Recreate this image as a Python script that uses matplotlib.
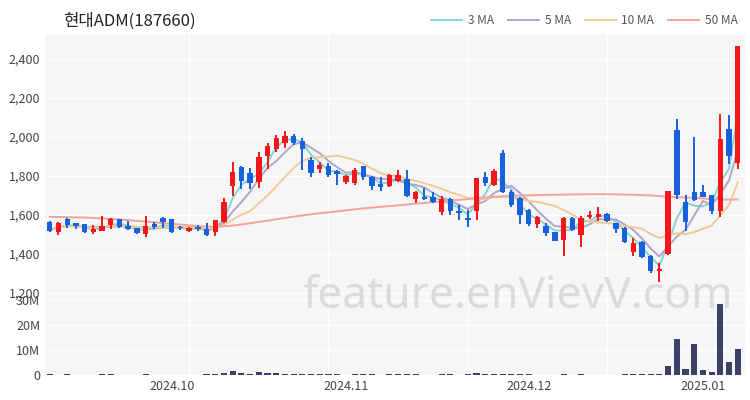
import numpy as np
import pandas as pd
import matplotlib
matplotlib.use('Agg')
import matplotlib.pyplot as plt

plt.rcParams['font.family'] = ['Noto Sans CJK KR', 'DejaVu Sans']

# donnees (80 seances, 2024-09 -> 2025-01-08)
opens = [1566, 1514, 1578, 1557, 1552, 1511, 1520, 1549, 1578, 1544,
         1532, 1502, 1553, 1586, 1578, 1539, 1520, 1539, 1527, 1511,
         1566, 1749, 1848, 1814, 1768, 1901, 1940, 1970, 2004, 1978,
         1882, 1835, 1853, 1826, 1770, 1766, 1851, 1796, 1760, 1749,
         1774, 1785, 1681, 1691, 1691, 1617, 1682, 1620, 1583, 1622,
         1796, 1754, 1920, 1720, 1686, 1626, 1554, 1544, 1511, 1470,
         1586, 1497, 1588, 1588, 1605, 1557, 1533, 1408, 1460, 1391,
         1311, 1399, 2035, 1668, 1716, 1716, 1703, 1619, 2043, 1866]
highs = [1570, 1563, 1586, 1560, 1555, 1548, 1595, 1586, 1580, 1570,
         1534, 1596, 1565, 1588, 1580, 1544, 1539, 1550, 1560, 1576,
         1689, 1873, 1850, 1840, 1922, 1969, 2010, 2029, 2017, 1995,
         1900, 1870, 1866, 1830, 1805, 1840, 1853, 1800, 1795, 1808,
         1831, 1831, 1725, 1737, 1720, 1697, 1685, 1651, 1626, 1790,
         1820, 1835, 1933, 1730, 1690, 1630, 1595, 1560, 1515, 1590,
         1590, 1595, 1622, 1640, 1610, 1560, 1540, 1480, 1465, 1395,
         1354, 1725, 2094, 1705, 2002, 1752, 1705, 2120, 2111, 2464]
lows = [1515, 1497, 1533, 1530, 1510, 1502, 1518, 1530, 1532, 1525,
        1504, 1486, 1530, 1535, 1509, 1522, 1514, 1520, 1494, 1492,
        1560, 1697, 1732, 1736, 1737, 1836, 1921, 1944, 1957, 1831,
        1797, 1817, 1796, 1754, 1760, 1755, 1780, 1726, 1725, 1745,
        1770, 1690, 1661, 1678, 1660, 1600, 1600, 1574, 1540, 1574,
        1750, 1750, 1715, 1640, 1554, 1545, 1535, 1492, 1465, 1390,
        1520, 1434, 1580, 1570, 1562, 1508, 1455, 1390, 1380, 1305,
        1255, 1395, 1682, 1519, 1670, 1690, 1605, 1588, 1862, 1836]
closes = [1520, 1560, 1549, 1544, 1514, 1528, 1545, 1579, 1537, 1527,
          1506, 1545, 1539, 1566, 1511, 1534, 1534, 1531, 1496, 1574,
          1665, 1822, 1776, 1762, 1896, 1953, 1995, 2004, 1970, 1940,
          1814, 1857, 1805, 1809, 1800, 1831, 1796, 1749, 1744, 1805,
          1805, 1697, 1720, 1681, 1667, 1681, 1620, 1612, 1574, 1788,
          1762, 1826, 1720, 1651, 1600, 1554, 1588, 1506, 1468, 1586,
          1523, 1586, 1600, 1605, 1568, 1528, 1460, 1457, 1386, 1311,
          1323, 1722, 1705, 1562, 1677, 1694, 1622, 1990, 1903, 2464]
# volume en millions
volumes = [0.3, 0.2, 0.3, 0.2, 0.2, 0.2, 0.3, 0.3, 0.2, 0.2,
           0.2, 0.4, 0.2, 0.2, 0.2, 0.2, 0.2, 0.2, 0.3, 0.5,
           1.0, 1.6, 0.8, 0.6, 1.4, 0.9, 0.7, 0.6, 0.5, 0.5,
           0.4, 0.3, 0.3, 0.3, 0.2, 0.3, 0.3, 0.3, 0.2, 0.3,
           0.3, 0.4, 0.3, 0.2, 0.2, 0.3, 0.3, 0.2, 0.3, 0.7,
           0.5, 0.6, 0.6, 0.4, 0.3, 0.3, 0.2, 0.2, 0.2, 0.3,
           0.2, 0.3, 0.2, 0.2, 0.2, 0.2, 0.3, 0.3, 0.3, 0.4,
           0.5, 3.6, 14.3, 2.3, 12.4, 2.0, 1.2, 28.4, 5.2, 10.4]
# moyenne mobile 50 (historique anterieur non visible)
ma50 = [1591, 1590, 1589, 1588, 1587, 1585, 1583, 1580, 1577, 1574,
        1570, 1567, 1563, 1559, 1555, 1551, 1547, 1543, 1541, 1540,
        1542, 1546, 1552, 1558, 1565, 1571, 1578, 1585, 1592, 1598,
        1604, 1609, 1614, 1619, 1624, 1629, 1634, 1638, 1642, 1646,
        1650, 1654, 1658, 1662, 1666, 1670, 1674, 1678, 1682, 1686,
        1690, 1693, 1696, 1698, 1700, 1701, 1702, 1703, 1704, 1705,
        1706, 1706, 1707, 1707, 1707, 1706, 1705, 1704, 1702, 1700,
        1697, 1694, 1692, 1690, 1688, 1685, 1682, 1680, 1679, 1680]

tick_pos = [14, 34, 55, 75]
tick_labels = ['2024.10', '2024.11', '2024.12', '2025.01']

df = pd.DataFrame({'open': opens, 'high': highs, 'low': lows,
                   'close': closes, 'vol': volumes, 'ma50': ma50})
df['ma3'] = df['close'].rolling(3, min_periods=1).mean()
df['ma5'] = df['close'].rolling(5, min_periods=1).mean()
df['ma10'] = df['close'].rolling(10, min_periods=1).mean()
x = np.arange(len(df))

red = '#f5161b'
blue = '#1861dd'
bg = '#f6f6f6'
colors = [red if c >= o else blue for o, c in zip(df['open'], df['close'])]

fig = plt.figure(figsize=(7.5, 4), dpi=100)
ax = fig.add_axes([0.06, 0.26, 0.933, 0.655])
axv = fig.add_axes([0.06, 0.0625, 0.933, 0.1975], sharex=ax)

for a in (ax, axv):
    a.set_facecolor(bg)
    for s in a.spines.values():
        s.set_visible(False)
    a.tick_params(length=0, labelsize=9, colors='#444444')
    for g in [16, 32, 48, 64]:
        a.axvline(g, color='white', lw=1, zorder=0)

# grille horizontale
for v in range(1200, 2600, 200):
    ax.axhline(v, color='white', lw=1, zorder=0)
for v in [10, 20, 30]:
    axv.axhline(v, color='white', lw=1, zorder=0)

# moyennes mobiles
ax.plot(x, df['ma3'], color='#82d6cf', lw=1.4, label='3 MA', zorder=2)
ax.plot(x, df['ma5'], color='#b3a3c9', lw=1.4, label='5 MA', zorder=2)
ax.plot(x, df['ma10'], color='#f1c994', lw=1.4, label='10 MA', zorder=2)
ax.plot(x, df['ma50'], color='#f4a29b', lw=1.4, label='50 MA', zorder=2)

# chandeliers
body_low = np.minimum(df['open'], df['close'])
body_h = np.maximum(np.abs(df['close'] - df['open']), 4)
ax.vlines(x, df['low'], df['high'], colors=colors, lw=1.4, zorder=3)
ax.bar(x, body_h, bottom=body_low, width=0.62, color=colors, zorder=4)

ax.set_xlim(-0.55, 79.8)
ax.set_ylim(1185, 2528)
ax.set_yticks(range(1200, 2600, 200))
ax.set_yticklabels(['{:,}'.format(v) for v in range(1200, 2600, 200)])
plt.setp(ax.get_xticklabels(), visible=False)

axv.bar(x, df['vol'], width=0.7, color='#3f4068', zorder=3)
axv.set_ylim(0, 31.6)
axv.set_yticks([0, 10, 20, 30])
axv.set_yticklabels(['0', '10M', '20M', '30M'])
axv.set_xticks(tick_pos)
axv.set_xticklabels(tick_labels)

fig.text(0.084, 0.948, '현대ADM(187660)', fontsize=12, color='#222222', va='center')
ax.legend(loc='lower right', bbox_to_anchor=(1.0, 1.0), ncol=4, frameon=False,
          fontsize=8.5, handlelength=2.6, columnspacing=1.2, handletextpad=0.5,
          labelcolor='#555555', borderaxespad=0.2)

fig.text(0.69, 0.258, 'feature.enVievV.com', fontsize=32, color='#c9c9c9',
         alpha=0.6, ha='center', va='center', family='Noto Sans')

plt.savefig('out.png', dpi=100)
